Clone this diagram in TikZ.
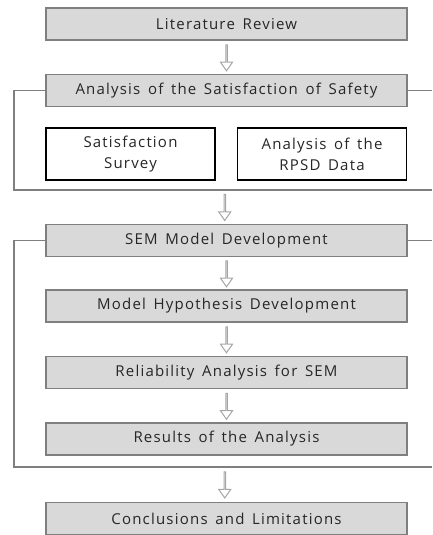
\documentclass[tikz,border=0pt]{standalone}
\usepackage{fontspec}
\setmainfont{Open Sans}[LetterSpace=8,WordSpace=1.5]
\usetikzlibrary{shapes.arrows,calc}
\definecolor{boxfill}{HTML}{D9D9D9}
\definecolor{boxline}{HTML}{7F7F7F}
\definecolor{arrowline}{HTML}{A6A6A6}
\begin{document}
\begin{tikzpicture}[x=1pt,y=-1pt,
  font=\fontsize{15}{21}\selectfont,
  stage/.style={draw=boxline,fill=boxfill,line width=1.3pt,minimum width=361pt,minimum height=32pt,inner sep=0pt,text=black!85},
  subbox/.style={draw=black,fill=white,line width=1.2pt,minimum width=169pt,minimum height=52pt,inner sep=0pt,align=center,text=black!85},
  flow/.style={single arrow,draw=arrowline,fill=white,line width=1pt,minimum width=12pt,single arrow head extend=3.5pt,single arrow tip angle=70,minimum height=26pt,inner sep=0pt,shape border rotate=270},
  frame/.style={draw=boxline,line width=1.1pt}]
\useasboundingbox (0,0) rectangle (432,535);

% process stages
\node[stage] (lit)  at (226.5,24)    {Literature Review};
\node[stage] (anal) at (226.5,90.5)  {Analysis of the Satisfaction of Safety};
\node[subbox] (survey) at (130.5,154) {Satisfaction\\Survey};
\node[subbox] (rpsd)   at (322,154)   {Analysis of the\\RPSD Data};
\node[stage] (sem)  at (226.5,240.5) {SEM Model Development};
\node[stage] (hyp)  at (226.5,306)   {Model Hypothesis Development};
\node[stage] (rel)  at (226.5,372.5) {Reliability Analysis for SEM};
\node[stage] (res)  at (226.5,439)   {Results of the Analysis};
\node[stage] (conc) at (226.5,518.5) {Conclusions and Limitations};

% frames grouping the stages
\coordinate (f1bl) at (14,190);
\coordinate (f1br) at (432,190);
\coordinate (f1r)  at (432,90.5);
\coordinate (f2bl) at (14,467);
\coordinate (f2br) at (432,467);
\coordinate (f2r)  at (432,240.5);
\draw[frame] (anal.west) -| (f1bl) -- (f1br);
\draw[frame] (anal.east) -- (f1r);
\draw[frame] (sem.west) -| (f2bl) -- (f2br);
\draw[frame] (sem.east) -- (f2r);

% block arrows between stages
\node[flow] at ($(lit.south)!0.5!(anal.north)$) {};
\node[flow] at ($(f1bl)!0.5!(f1br)!0.5!(sem.north)$) {};
\node[flow] at ($(sem.south)!0.5!(hyp.north)$) {};
\node[flow] at ($(hyp.south)!0.5!(rel.north)$) {};
\node[flow] at ($(rel.south)!0.5!(res.north)$) {};
\node[flow] at ($(f2bl)!0.5!(f2br)!0.5!(conc.north)$) {};
\end{tikzpicture}
\end{document}
